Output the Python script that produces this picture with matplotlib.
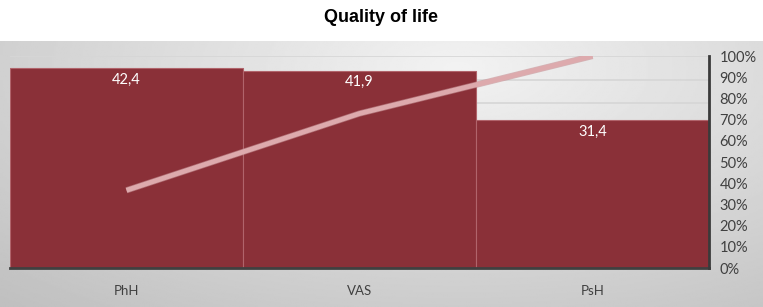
import numpy as np
import matplotlib.pyplot as plt

categories = ["PhH", "VAS", "PsH"]
values = [42.4, 41.9, 31.4]
value_labels = ["42,4", "41,9", "31,4"]
pct_ticks = [0, 10, 20, 30, 40, 50, 60, 70, 80, 90, 100]

cum_pct = np.cumsum(values) / np.sum(values) * 100

W, H = 763, 307
fig = plt.figure(figsize=(W / 100, H / 100), dpi=100)
fig.patch.set_facecolor("white")

# gray gradient background under the title
bg = fig.add_axes([0, 0, 1, (H - 41) / H])
yy, xx = np.mgrid[0:1:200j, 0:1:400j]
r = np.sqrt(((xx - 0.6) / 0.9) ** 2 + ((yy - 0.1) / 1.2) ** 2)
shade = 0.95 - 0.2 * np.clip(r, 0, 1)
bg.imshow(shade, cmap="gray", vmin=0, vmax=1, aspect="auto", extent=[0, 1, 0, 1], origin="upper")
bg.axis("off")

fig.text(0.5, 1 - 18 / H, "Quality of life", ha="center", va="center",
         fontsize=13, fontweight="bold", family="Liberation Sans")

ax = fig.add_axes([10 / W, (H - 268) / H, (709 - 10) / W, (268 - 56) / H])
ax.patch.set_alpha(0)
x = np.arange(len(categories))
ax.bar(x, values, width=1.0, color="#8a3038", edgecolor="#b0646b", linewidth=0.8, zorder=2)
ax.set_xlim(-0.5, 2.5)
ax.set_ylim(0, 45)
ax.set_yticks(np.arange(0, 46, 5))
ax.yaxis.grid(True, color="#d6d6d6", linewidth=1.2, zorder=0)
ax.set_axisbelow(True)
ax.set_xticks(x)
ax.set_xticklabels(categories, fontsize=9.5, color="#404040", family="Lato")
for s in ["top", "left", "right"]:
    ax.spines[s].set_visible(False)
ax.spines["bottom"].set_color("#404040")
ax.spines["bottom"].set_linewidth(2)
for xi, v, lab in zip(x, values, value_labels):
    ax.text(xi, v - 1.0, lab, ha="center", va="top", color="white", fontsize=10.5, family="Lato")

ax2 = ax.twinx()
ax.tick_params(left=False, labelleft=False, right=False, bottom=False)
ax.tick_params(axis="x", pad=9)
ax2.set_ylim(0, 100)
ax2.set_yticks(pct_ticks)
ax2.set_yticklabels([f"{t}%" for t in pct_ticks], fontsize=10.5, color="#404040", family="Lato")
ax2.tick_params(left=False, right=False, pad=4)
for s in ["top", "left", "bottom"]:
    ax2.spines[s].set_visible(False)
ax2.spines["right"].set_color("#3a3a3a")
ax2.spines["right"].set_linewidth(2)
ax2.plot(x, cum_pct, color="#c49094", linewidth=4.5, alpha=0.6, solid_capstyle="butt")
ax2.plot(x, cum_pct, color="#ddaaad", linewidth=3.5, solid_capstyle="butt")

fig.savefig("out.png", dpi=100)
